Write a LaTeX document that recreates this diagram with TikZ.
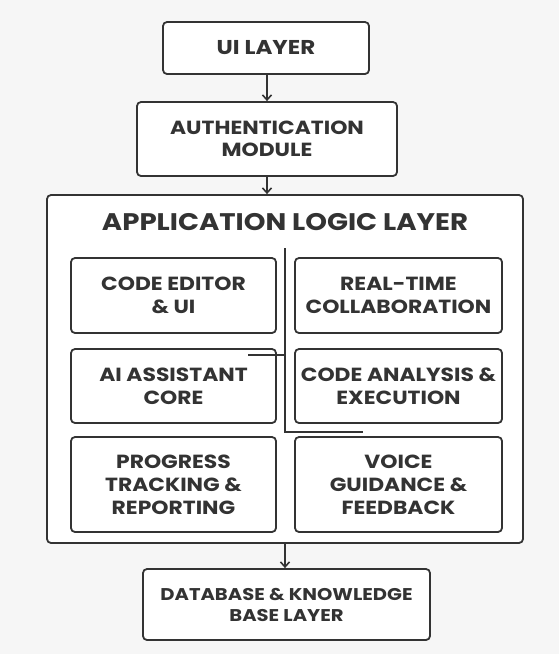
\documentclass[tikz,border=0pt]{standalone}
\usepackage{fontspec}
\setmainfont{Poppins}[FakeStretch=1.15]
\usetikzlibrary{arrows.meta}
\definecolor{ink}{HTML}{333333}
\definecolor{bg}{HTML}{F6F6F6}
\tikzset{
  box/.style={draw=ink, line width=1.8pt, rounded corners=4pt, fill=white, align=center, text=ink, font=\bfseries\fontsize{19}{23}\selectfont, inner sep=0pt},
  conn/.style={draw=ink, line width=1.6pt},
  arr/.style={conn, -{Straight Barb[length=5pt,width=9pt]}}
}
\begin{document}
\begin{tikzpicture}[x=1pt,y=-1pt]
\fill[bg] (0,0) rectangle (559,654);
\useasboundingbox (0,0) rectangle (559,654);
\node[box, minimum width=206pt, minimum height=52pt, font=\bfseries\fontsize{20}{22}\selectfont] (ui) at (266,48) {UI LAYER};
\node[box, minimum width=260pt, minimum height=74pt, font=\bfseries\fontsize{19}{22}\selectfont] (auth) at (267,139) {AUTHENTICATION\\MODULE};
\node[box, minimum width=476pt, minimum height=348pt] (app) at (285,369) {};
\node[text=ink, font=\bfseries\fontsize{24}{26}\selectfont] (title) at (285,222) {APPLICATION LOGIC LAYER};
\node[box, minimum width=205pt, minimum height=75pt] (ce) at (173.5,295.5) {CODE EDITOR\\\& UI};
\node[box, minimum width=207pt, minimum height=75pt] (rt) at (398.5,295.5) {REAL-TIME\\COLLABORATION};
\node[box, minimum width=205pt, minimum height=74pt] (ai) at (173.5,386) {AI ASSISTANT\\CORE};
\node[box, minimum width=207pt, minimum height=74pt] (ca) at (398.5,386) {CODE ANALYSIS \&\\EXECUTION};
\node[box, minimum width=205pt, minimum height=95pt] (pt) at (173.5,484.5) {PROGRESS\\TRACKING \&\\REPORTING};
\node[box, minimum width=207pt, minimum height=95pt] (vg) at (398.5,484.5) {VOICE\\GUIDANCE \&\\FEEDBACK};
\node[box, minimum width=287pt, minimum height=71pt, font=\bfseries\fontsize{17}{21}\selectfont] (db) at (286.5,604.5) {DATABASE \& KNOWLEDGE\\BASE LAYER};
\coordinate (vtop) at (285,248);
\coordinate (vbot) at (285,432);
\coordinate (hend) at (363,432);
\coordinate (sl) at (248,355);
\coordinate (sr) at (285,355);
\draw[arr] (ui.south -| 267,0) -- (auth.north -| 267,0);
\draw[arr] (auth.south -| 267,0) -- (app.north -| 267,0);
\draw[arr] (app.south -| 285,0) -- (db.north -| 285,0);
\draw[conn] (vtop) -- (vbot) -- (hend);
\draw[conn] (sl) -- (sr);
\end{tikzpicture}
\end{document}
